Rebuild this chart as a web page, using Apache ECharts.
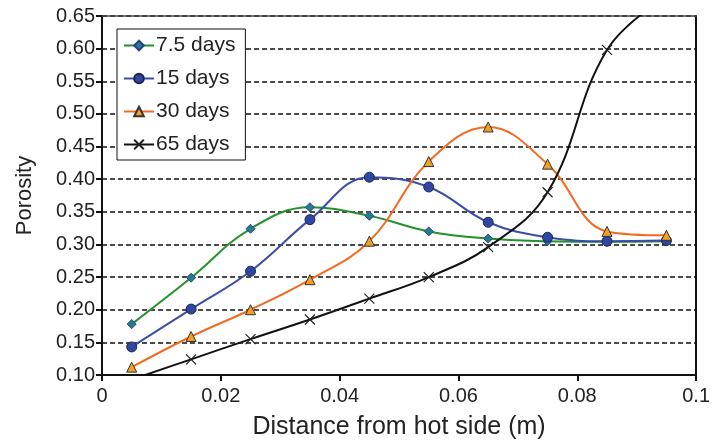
<!DOCTYPE html>
<html>
<head>
<meta charset="utf-8">
<script src="https://cdn.jsdelivr.net/npm/echarts@6/dist/echarts.min.js"></script>
<style>
  html, body { margin: 0; padding: 0; background: #fff; }
  #chart { width: 713px; height: 445px; }
</style>
</head>
<body>
<div id="chart"></div>
<script>
// distance from hot side (m)
const distances = [0.005, 0.015, 0.025, 0.035, 0.045, 0.055, 0.065, 0.075, 0.085, 0.095];

const days7_5 = [0.178, 0.249, 0.324, 0.357, 0.344, 0.320, 0.309, 0.305, 0.304, 0.305];
const days15 = [0.143, 0.201, 0.259, 0.338, 0.403, 0.388, 0.334, 0.311, 0.305, 0.306];
const days30 = [0.112, 0.159, 0.200, 0.246, 0.305, 0.427, 0.480, 0.423, 0.320, 0.314];
const days65 = [0.093, 0.124, 0.155, 0.185, 0.217, 0.250, 0.296, 0.380, 0.598, 0.680];

const seriesNames = ['7.5 days', '15 days', '30 days', '65 days'];

const toPairs = vals => vals.map((v, i) => [distances[i], v]);

const textColor = '#222';
const font = 'Liberation Sans, Arial, sans-serif';

const chart = echarts.init(document.getElementById('chart'));

chart.setOption({
  animation: false,
  grid: { left: 102, right: 14, top: 16, bottom: 69 },
  legend: {
    orient: 'vertical',
    left: 117, top: 29,
    data: seriesNames,
    backgroundColor: '#fff',
    borderColor: '#111', borderWidth: 1,
    padding: [6, 10, 5, 6],
    itemWidth: 30, itemHeight: 12, itemGap: 12,
    textStyle: { fontSize: 21, lineHeight: 21, color: textColor, fontFamily: font, padding: [0, 0, 0, -3] }
  },
  xAxis: [{
    type: 'value', min: 0, max: 0.1, interval: 0.02,
    name: 'Distance from hot side (m)', nameLocation: 'middle', nameGap: 40,
    nameTextStyle: { fontSize: 25, color: textColor, fontFamily: font },
    axisLine: { lineStyle: { color: '#111', width: 2 } },
    axisTick: { show: true, length: 6, lineStyle: { color: '#111', width: 2 } },
    axisLabel: {
      fontSize: 20, color: textColor, fontFamily: font, margin: 11,
      formatter: v => v === 0 ? '0' : (Math.abs(v - 0.1) < 1e-9 ? '0.1' : v.toFixed(2))
    },
    splitLine: { show: false }
  }, {
    type: 'value', position: 'top', min: 0, max: 0.1,
    axisLine: { show: true, onZero: false, lineStyle: { color: '#444', width: 1.5 } },
    axisTick: { show: false }, axisLabel: { show: false }, splitLine: { show: false }
  }],
  yAxis: [{
    type: 'value', min: 0.1, max: 0.65, interval: 0.05,
    name: 'Porosity', nameLocation: 'middle', nameGap: 66,
    nameTextStyle: { fontSize: 22, color: textColor, fontFamily: font },
    axisLine: { show: true, lineStyle: { color: '#111', width: 2 } },
    axisTick: { show: true, length: 6, lineStyle: { color: '#111', width: 2 } },
    axisLabel: { fontSize: 20, color: textColor, fontFamily: font, margin: 7, formatter: v => v.toFixed(2) },
    splitLine: { show: true, lineStyle: { color: '#111', width: 1.5, type: [5, 3] } }
  }, {
    type: 'value', position: 'right', min: 0.1, max: 0.65,
    axisLine: { show: true, onZero: false, lineStyle: { color: '#111', width: 2 } },
    axisTick: { show: false }, axisLabel: { show: false }, splitLine: { show: false }
  }],
  series: [
    {
      name: seriesNames[0], type: 'line', smooth: 0.4, data: toPairs(days7_5),
      symbol: 'diamond', symbolSize: 9,
      lineStyle: { color: '#22922a', width: 2 },
      itemStyle: { color: '#237f86', borderColor: '#2b3d8f', borderWidth: 1 }
    },
    {
      name: seriesNames[1], type: 'line', smooth: 0.4, data: toPairs(days15),
      symbol: 'circle', symbolSize: 10,
      lineStyle: { color: '#3a4ea6', width: 2 },
      itemStyle: { color: '#2f46a3', borderColor: '#1c2450', borderWidth: 1 }
    },
    {
      name: seriesNames[2], type: 'line', smooth: 0.4, data: toPairs(days30),
      symbol: 'triangle', symbolSize: 10,
      lineStyle: { color: '#f26a22', width: 2 },
      itemStyle: { color: '#f2a020', borderColor: '#333', borderWidth: 1 }
    },
    {
      name: seriesNames[3], type: 'line', smooth: 0.4, data: toPairs(days65),
      symbol: 'path://M0,0L10,10M10,0L0,10', symbolSize: 10,
      lineStyle: { color: '#111', width: 2 },
      itemStyle: { color: 'rgba(0,0,0,0)', borderColor: '#222', borderWidth: 1.2 }
    }
  ]
});
</script>
</body>
</html>
